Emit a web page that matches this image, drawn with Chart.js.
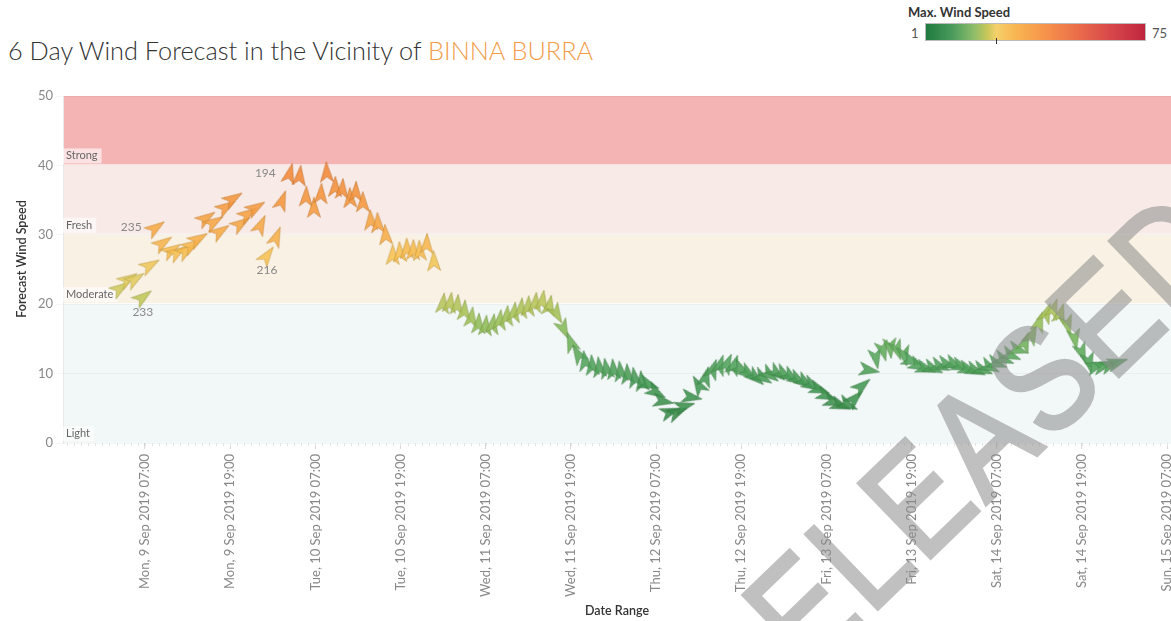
<!DOCTYPE html>
<html>
<head>
<meta charset="utf-8">
<script src="https://cdn.jsdelivr.net/npm/chart.js@4.4.1/dist/chart.umd.min.js"></script>
<style>
  body { margin: 0; width: 1171px; height: 621px; overflow: hidden; position: relative; background: #fff; font-family: Lato, "Open Sans", sans-serif; }
  #title { position: absolute; left: 8px; top: 36px; font-size: 25.3px; font-weight: 300; color: #333; line-height: 28px; white-space: nowrap; }
  #title span { color: #f39c4a; }
  #legendTitle { position: absolute; left: 908px; top: 4px; font-size: 13px; font-weight: 700; color: #333; }
  #legendMin { position: absolute; left: 911px; top: 25px; font-size: 13px; color: #555; }
  #legendMax { position: absolute; left: 1152px; top: 25px; font-size: 13px; color: #555; }
  #legendBar { position: absolute; left: 925px; top: 23px; width: 219px; height: 16px; border: 1px solid #bbb;
    background: linear-gradient(to right, #1f7a3e 0%, #4a9b5c 12%, #8fbd6b 22%, #c8c65a 28%, #f4d06c 32%, #f9b853 40%, #f6924a 55%, #ea6b4a 70%, #d6464a 85%, #c0263e 100%); }
  #legendTick { position: absolute; left: 996px; top: 38px; width: 1px; height: 6px; background: #333; }
  #wrap { position: absolute; left: 0; top: 0; width: 1171px; height: 621px; }
</style>
</head>
<body>
<div id="title">6 Day Wind Forecast in the Vicinity of <span>BINNA BURRA</span></div>
<div id="legendTitle">Max. Wind Speed</div>
<div id="legendMin">1</div>
<div id="legendBar"></div>
<div id="legendTick"></div>
<div id="legendMax">75</div>
<div id="wrap"><canvas id="chart" width="1171" height="621"></canvas></div>
<script>
// hours since Mon 9 Sep 2019 00:00
const hours = [3.5, 4.6, 5.6, 6.7, 7.7, 8.5, 9.5, 10.7, 11.6, 12.8, 13.6, 14.5, 15.6, 16.7, 17.6, 18.4, 19.4, 20.5, 21.5, 22.6,
  23.3, 24.2, 25.5, 26.3, 27.4, 28.8, 29.7, 30.8, 31.8, 32.6, 33.8, 34.8, 35.9, 36.7, 37.7, 38.8, 39.8, 40.9, 41.9, 42.9,
  43.9, 44.8, 45.7, 46.7, 47.7,
  49, 50, 51, 52, 53, 54, 55, 56, 57, 58, 59, 60, 61, 62, 63, 64, 65, 66, 67, 68, 69, 70, 71, 72, 73, 74, 75, 76, 77, 78,
  79, 80, 81, 82, 83, 84, 85, 86, 87, 88, 89, 90, 91, 92, 93, 94, 95, 96, 97, 98, 99, 100, 101, 102, 103, 104, 105, 106,
  107, 108, 109, 110, 111, 112, 113, 114, 115, 116, 117, 118, 119, 120, 121, 122, 123, 124, 125, 126, 127, 128, 129, 130,
  131, 132, 133, 134, 135, 136, 137, 138, 139, 140, 141, 142, 143, 144];

const speeds = [22.3, 23.6, 23.6, 21.0, 25.6, 31.0, 28.8, 27.8, 27.5, 27.7, 28.5, 29.4, 32.4, 31.8, 30.5, 34.0, 35.2, 31.6, 33.0, 33.9,
  31.4, 27.0, 29.7, 34.9, 38.8, 38.5, 35.5, 33.9, 35.9, 39.0, 36.9, 36.6, 35.3, 36.2, 34.7, 32.1, 31.7, 30.0, 27.1, 27.5,
  28.0, 27.8, 27.7, 28.7, 26.2,
  20.1, 20.2, 19.9, 19.1, 18.1, 17.2, 16.9, 17.1, 17.7, 18.3, 18.8, 19.4, 19.7, 20.2, 20.5, 19.8,
  18.6, 16.4, 14.5, 12.8,
  11.8, 11.2, 10.9, 10.7, 10.6, 10.3, 9.9, 9.4, 8.9, 8.4,
  7.3, 6.0, 4.5, 4.4, 5.3, 6.6, 8.3,
  9.5, 10.6, 11.2, 11.4, 11.2,
  10.6, 10.0, 9.4, 9.4, 9.8, 10.0, 9.9, 9.5, 9.1, 8.7, 8.3,
  7.7, 6.8, 5.9, 5.4, 5.5,
  6.4, 8.2, 10.5,
  12.2, 13.3, 13.7, 13.4, 12.6,
  11.8, 11.1, 10.7, 10.7, 11.0, 11.3, 11.3, 11.0, 10.6, 10.4, 10.5, 10.9, 11.4, 12.0, 12.6, 13.4,
  14.5, 15.6, 17.4, 18.7, 19.3, 18.6,
  17.0, 15.0, 13.0, 11.6,
  11.1, 11.1, 11.3, 11.6];

// wind direction (degrees, where the wind comes from)
const directions = [236, 238, 237, 233, 240, 235, 236, 238, 237, 236, 238, 239, 236, 238, 236, 237, 238, 236, 237, 238,
  205, 216, 202, 200, 194, 186, 182, 180, 183, 178, 181, 184, 178, 182, 180, 177, 178, 176, 180, 178,
  179, 181, 178, 182, 178,
  186, 188, 185, 184, 187, 183, 185, 188, 186, 184, 187, 185, 183, 186, 188, 190,
  330, 335, 160, 150,
  172, 176, 174, 170, 175, 173, 176, 171, 174, 290,
  300, 280, 250, 245, 255, 280, 150,
  195, 200, 198, 205, 200,
  300, 305, 310, 300, 305, 308, 302, 306, 300, 304, 298,
  290, 292, 288, 290, 295,
  225, 230, 280,
  350, 345, 355, 340, 348,
  290, 295, 288, 292, 290, 286, 294, 290, 288, 292, 290, 295, 288, 290, 292, 286,
  200, 205, 198, 202, 200, 196,
  345, 350, 340, 348,
  250, 255, 248, 252];

// points whose direction is written next to the arrow
const labelledPoints = [3, 5, 21, 24];
const labelSides = ['below', 'left', 'below', 'left'];

const tickHours = [7, 19, 31, 43, 55, 67, 79, 91, 103, 115, 127, 139, 151];
const tickLabels = ['Mon, 9 Sep 2019 07:00', 'Mon, 9 Sep 2019 19:00', 'Tue, 10 Sep 2019 07:00', 'Tue, 10 Sep 2019 19:00',
  'Wed, 11 Sep 2019 07:00', 'Wed, 11 Sep 2019 19:00', 'Thu, 12 Sep 2019 07:00', 'Thu, 12 Sep 2019 19:00',
  'Fri, 13 Sep 2019 07:00', 'Fri, 13 Sep 2019 19:00', 'Sat, 14 Sep 2019 07:00', 'Sat, 14 Sep 2019 19:00',
  'Sun, 15 Sep 2019 07:00'];

const bandEdges = [0, 20, 30, 40, 50];
const bandNames = ['Light', 'Moderate', 'Fresh', 'Strong'];
const bandColors = ['#f2f7f7', '#f9f1e4', '#f8ebe7', '#f4b4b4'];

const FONT = 'Lato, "Open Sans", sans-serif';

// colour ramp by speed
const colorStops = [
  [0, [46, 128, 64]], [8, [66, 150, 82]], [12, [84, 165, 92]], [15, [116, 180, 90]],
  [18, [157, 192, 86]], [21, [192, 199, 90]], [24, [230, 205, 98]], [27, [247, 194, 83]],
  [30, [247, 173, 72]], [34, [245, 155, 64]], [38, [242, 138, 56]], [50, [236, 120, 50]]
];
function speedColor(v) {
  for (let i = 1; i < colorStops.length; i++) {
    if (v <= colorStops[i][0]) {
      const [a, ca] = colorStops[i - 1], [b, cb] = colorStops[i];
      const t = (v - a) / (b - a);
      return ca.map((c, k) => Math.round(c + (cb[k] - c) * t));
    }
  }
  return colorStops[colorStops.length - 1][1];
}

const arrowCache = {};
function arrowFor(v) {
  const rgb = speedColor(v);
  const key = rgb.join(',');
  if (arrowCache[key]) return arrowCache[key];
  const c = document.createElement('canvas');
  c.width = 26; c.height = 26;
  const g = c.getContext('2d');
  g.beginPath();
  g.moveTo(13, 2.5);
  g.lineTo(19.5, 22.5);
  g.lineTo(13, 17.5);
  g.lineTo(6.5, 22.5);
  g.closePath();
  g.fillStyle = 'rgba(' + key + ',0.88)';
  g.fill();
  g.lineWidth = 0.8;
  g.strokeStyle = 'rgba(' + rgb.map(x => Math.round(x * 0.8)).join(',') + ',0.8)';
  g.stroke();
  arrowCache[key] = c;
  return c;
}

const bandPlugin = {
  id: 'bands',
  beforeDraw(chart) {
    const { ctx, chartArea: a, scales: { y } } = chart;
    ctx.save();
    for (let i = 0; i < bandNames.length; i++) {
      const top = y.getPixelForValue(bandEdges[i + 1]);
      const bot = y.getPixelForValue(bandEdges[i]);
      ctx.fillStyle = bandColors[i];
      ctx.fillRect(a.left, top, a.right - a.left, bot - top - (i > 0 ? 1 : 0));
    }
    ctx.restore();
  },
  beforeDatasetsDraw(chart) {
    const { ctx, chartArea: a, scales: { x, y } } = chart;
    ctx.save();
    // small hourly ticks under the pane
    ctx.strokeStyle = '#e4e4e4';
    ctx.lineWidth = 1;
    for (let h = Math.ceil(x.min); h <= x.max; h++) {
      const px = Math.round(x.getPixelForValue(h)) + 0.5;
      ctx.beginPath();
      ctx.moveTo(px, a.bottom);
      ctx.lineTo(px, a.bottom + 3);
      ctx.stroke();
    }
    // band names
    ctx.font = '11px ' + FONT;
    ctx.textBaseline = 'middle';
    for (let i = 0; i < bandNames.length; i++) {
      const bot = y.getPixelForValue(bandEdges[i]);
      const w = ctx.measureText(bandNames[i]).width + 7;
      ctx.fillStyle = 'rgba(255,255,255,0.6)';
      ctx.fillRect(a.left, bot - 17, w, 15);
      ctx.fillStyle = '#666';
      ctx.fillText(bandNames[i], a.left + 3, bot - 9.5);
    }
    ctx.restore();
  },
  afterDatasetsDraw(chart) {
    const { ctx } = chart;
    const pts = chart.getDatasetMeta(0).data;
    ctx.save();
    ctx.font = '12px ' + FONT;
    ctx.fillStyle = '#888';
    ctx.textBaseline = 'middle';
    labelledPoints.forEach((idx, k) => {
      const p = pts[idx];
      if (labelSides[k] === 'left') {
        ctx.textAlign = 'right';
        ctx.fillText(directions[idx], p.x - 14, p.y - 1);
      } else {
        ctx.textAlign = 'center';
        ctx.fillText(directions[idx], p.x, p.y + 15);
      }
    });
    ctx.restore();
  },
  afterDraw(chart) {
    const { ctx } = chart;
    ctx.save();
    // y axis title
    ctx.translate(22, 259);
    ctx.rotate(-Math.PI / 2);
    ctx.font = '600 12.5px ' + FONT;
    ctx.fillStyle = '#333';
    ctx.textAlign = 'center';
    ctx.textBaseline = 'middle';
    ctx.fillText('Forecast Wind Speed', 0, 0);
    ctx.restore();
    // watermark, drawn opaque off-screen then laid over with transparency
    const wm = document.createElement('canvas');
    wm.width = chart.width; wm.height = chart.height;
    const w = wm.getContext('2d');
    w.translate(962, 470);
    w.rotate(-44 * Math.PI / 180);
    w.scale(0.83, 1);
    w.font = '150px "Liberation Sans", sans-serif';
    w.letterSpacing = '5px';
    w.fillStyle = '#8c8c8c';
    w.strokeStyle = '#8c8c8c';
    w.lineWidth = 4;
    w.textAlign = 'center';
    w.textBaseline = 'middle';
    w.fillText('RELEASED', 0, 0);
    w.strokeText('RELEASED', 0, 0);
    ctx.save();
    ctx.globalAlpha = 0.55;
    ctx.drawImage(wm, 0, 0);
    ctx.restore();
  }
};

const points = hours.map((h, i) => ({ x: h, y: speeds[i] }));

new Chart(document.getElementById('chart'), {
  type: 'scatter',
  data: {
    datasets: [{
      data: points,
      pointStyle: c => arrowFor(speeds[c.dataIndex]),
      rotation: c => (directions[c.dataIndex] + 180) % 360,
      pointRadius: 9,
      pointHoverRadius: 9
    }]
  },
  options: {
    responsive: false,
    animation: false,
    devicePixelRatio: 1,
    layout: { autoPadding: false, padding: { top: 96, left: 0, right: 0, bottom: 0 } },
    plugins: {
      legend: { display: false },
      tooltip: { enabled: false }
    },
    scales: {
      x: {
        type: 'linear',
        min: -4.55,
        max: 151.56,
        afterBuildTicks: s => { s.ticks = tickHours.map(v => ({ value: v })); },
        afterFit: s => { s.paddingLeft = 0; s.paddingRight = 0; s.height = 178; },
        ticks: {
          autoSkip: false,
          minRotation: 90,
          maxRotation: 90,
          padding: 5,
          color: '#888',
          font: { size: 13, family: FONT },
          callback: v => tickLabels[tickHours.indexOf(v)]
        },
        grid: { drawOnChartArea: false, tickLength: 6, color: '#d8d8d8' },
        border: { display: false },
        title: {
          display: true,
          text: 'Date Range',
          color: '#333',
          font: { size: 12.5, weight: '600', family: FONT },
          padding: { top: 0, bottom: 3 }
        }
      },
      y: {
        min: 0,
        max: 50,
        afterFit: s => { s.width = 63; },
        ticks: { stepSize: 10, padding: 3, color: '#888', font: { size: 13, family: FONT } },
        grid: { color: 'rgba(0,0,0,0.04)', tickLength: 7 },
        border: { display: true, color: '#e8e8e8' }
      }
    }
  },
  plugins: [bandPlugin]
});
</script>
</body>
</html>
